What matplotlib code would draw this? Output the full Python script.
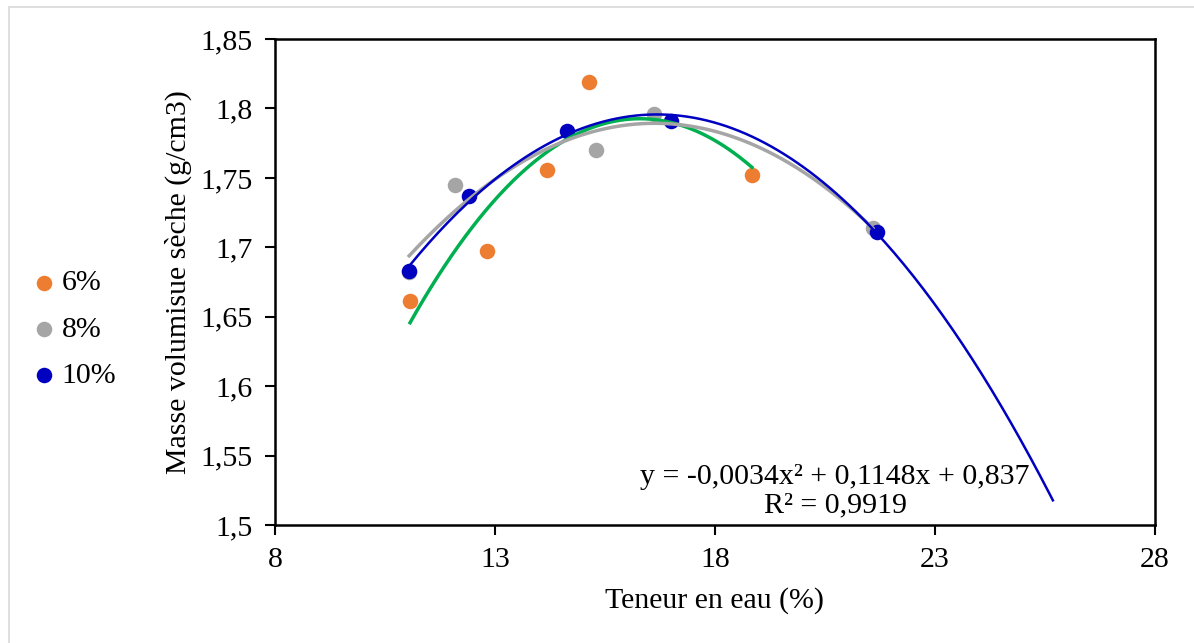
import matplotlib.pyplot as plt
import numpy as np
from matplotlib.patches import Rectangle

plt.rcParams['font.family'] = ['Liberation Serif', 'DejaVu Serif']

# teneur en eau (%) / masse volumique seche (g/cm3) for each lime content
x_6 = [11.07, 12.82, 14.18, 15.14, 18.84]
y_6 = [1.661, 1.697, 1.756, 1.819, 1.752]

x_8 = [11.05, 12.09, 15.30, 16.61, 21.59]
y_8 = [1.682, 1.745, 1.770, 1.796, 1.714]

x_10 = [11.05, 12.41, 14.64, 17.00, 21.68]
y_10 = [1.683, 1.737, 1.784, 1.791, 1.711]

labels = ['6%', '8%', '10%']
colors = ['#ED7D31', '#A5A5A5', '#0000C0']
trend_colors = ['#00B050', '#A5A5A5', '#0000C0']
trend_widths = [2.5, 2.5, 1.8]
forward = [0, 0, 4]   # extra range the trendline is projected forward

fs = 21.5

fig = plt.figure(figsize=(11.94, 6.43), dpi=100)
ax = fig.add_axes([0.2303, 0.1835, 0.737, 0.7558])

series = [(x_6, y_6), (x_8, y_8), (x_10, y_10)]
handles = []
for (xs, ys), lab, c in zip(series, labels, colors):
    h = ax.scatter(xs, ys, s=125, color=c, zorder=3, label=lab, linewidths=0)
    handles.append(h)

# second order polynomial trendlines
for (xs, ys), c, lw, fw in zip(series, trend_colors, trend_widths, forward):
    p = np.polyfit(xs, ys, 2)
    xx = np.linspace(min(xs), max(xs) + fw, 200)
    ax.plot(xx, np.polyval(p, xx), color=c, lw=lw, zorder=4)

fig.text(835 / 1194, 1 - 491 / 643, 'y = -0,0034x² + 0,1148x + 0,837\nR² = 0,9919',
         ha='center', va='center', fontsize=fs, linespacing=1.12)

ax.set_xlim(8, 28)
ax.set_ylim(1.5, 1.85)
ax.set_xticks([8, 13, 18, 23, 28])
ax.set_yticks([1.5, 1.55, 1.6, 1.65, 1.7, 1.75, 1.8, 1.85])
ax.set_yticklabels(['1,5', '1,55', '1,6', '1,65', '1,7', '1,75', '1,8', '1,85'])
ax.tick_params(direction='out', length=7, width=1.5, labelsize=fs, pad=9)
for sp in ax.spines.values():
    sp.set_linewidth(1.8)

ax.set_xlabel('Teneur en eau (%)', fontsize=fs, labelpad=10)
ax.set_ylabel('Masse volumisue sèche (g/cm3)', fontsize=fs, labelpad=6)

fig.legend(handles=handles, labels=labels, loc='center left',
           bbox_to_anchor=(0.003, 0.488), frameon=False, fontsize=fs,
           handlelength=0.9, handletextpad=0.15, labelspacing=0.65,
           markerscale=1.0)

# light border around the chart area
fig.patches.append(Rectangle((0.0075, -0.02), 1.1, 1.009, transform=fig.transFigure,
                             fill=False, edgecolor='#D9D9D9', lw=1.2))

fig.savefig('out.png', dpi=100)
